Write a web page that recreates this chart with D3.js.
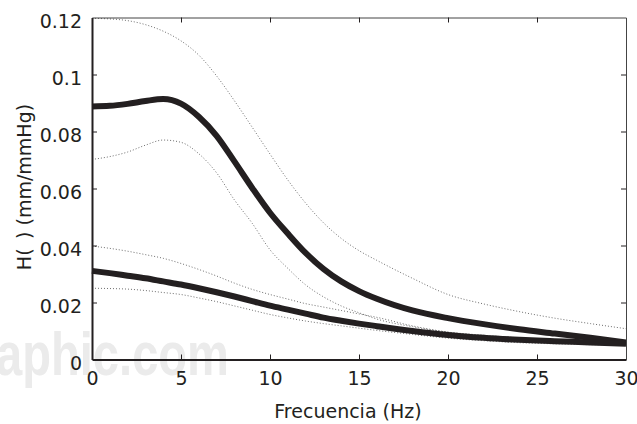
<!DOCTYPE html>
<html>
<head>
<meta charset="utf-8">
<script src="https://cdn.jsdelivr.net/npm/d3@7"></script>
<style>
  body { margin: 0; background: #fff; }
  text { font-family: 'DejaVu Sans', sans-serif; fill: #231f20; }
</style>
</head>
<body>
<script>
// data

var freq = [0, 1, 2, 3, 4, 5, 6, 7, 8, 9, 10, 11, 12, 13, 14, 15, 16, 18, 20, 22, 24, 26, 28, 30]

var upperMean = [0.0888, 0.0890, 0.0897, 0.0907, 0.0914, 0.0898, 0.0852, 0.0785, 0.0695, 0.0602, 0.0515, 0.0442,
  0.0374, 0.0318, 0.0274, 0.0240, 0.0213, 0.0172, 0.0145, 0.0124, 0.0106, 0.0091, 0.0076, 0.0060]
var upperHigh = [0.1197, 0.1195, 0.1189, 0.1175, 0.1152, 0.1118, 0.1068, 0.0995, 0.0908, 0.0815, 0.0721, 0.0630,
  0.0549, 0.0480, 0.0425, 0.0382, 0.0348, 0.0285, 0.0228, 0.0195, 0.0168, 0.0145, 0.0126, 0.0108]
var upperLow = [0.0702, 0.0712, 0.0728, 0.0752, 0.0770, 0.0762, 0.0722, 0.0655, 0.0560, 0.0478, 0.0385, 0.0320,
  0.0262, 0.0220, 0.0188, 0.0164, 0.0142, 0.0115, 0.0096, 0.0085, 0.0076, 0.0068, 0.0062, 0.0056]

var lowerMean = [0.0311, 0.0303, 0.0294, 0.0285, 0.0274, 0.0263, 0.0250, 0.0236, 0.0221, 0.0205, 0.0189, 0.0175,
  0.0161, 0.0147, 0.0136, 0.0126, 0.0117, 0.0100, 0.0086, 0.0076, 0.0069, 0.0064, 0.0060, 0.0055]
var lowerHigh = [0.0398, 0.0390, 0.0380, 0.0368, 0.0355, 0.0337, 0.0316, 0.0293, 0.0268, 0.0246, 0.0228, 0.0212,
  0.0196, 0.0184, 0.0172, 0.0160, 0.0148, 0.0118, 0.0096, 0.0085, 0.0076, 0.0068, 0.0062, 0.0056]
var lowerLow = [0.0250, 0.0249, 0.0247, 0.0242, 0.0235, 0.0228, 0.0216, 0.0203, 0.0188, 0.0173, 0.0158, 0.0146,
  0.0135, 0.0126, 0.0118, 0.0110, 0.0102, 0.0088, 0.0075, 0.0066, 0.0059, 0.0055, 0.0052, 0.0050]

var xTicks = [0, 5, 10, 15, 20, 25, 30]
var yTicks = [0, 0.02, 0.04, 0.06, 0.08, 0.1, 0.12]

var xTitle = 'Frecuencia (Hz)'
var yTitle = 'H(\u2002) (mm/mmHg)'

// page setup

var width = 637
var height = 424
var margin = { top: 17.5, right: 11, bottom: 65, left: 92 }

var svg = d3.select('body').append('svg')
  .attr('width', width)
  .attr('height', height)

// faint watermark behind the plot
svg.append('text')
  .attr('x', -4)
  .attr('y', 375)
  .attr('textLength', 233)
  .attr('lengthAdjust', 'spacingAndGlyphs')
  .style('font-family', "'Liberation Sans', sans-serif")
  .style('font-weight', 'bold')
  .style('font-size', '62px')
  .style('fill', '#ebebeb')
  .text('aphic.com')

var x = d3.scaleLinear()
  .domain([0, 30])
  .range([margin.left, width - margin.right])

var y = d3.scaleLinear()
  .domain([0, 0.12])
  .range([height - margin.bottom + 0.5, margin.top])

// curves

var line = function(values) {
  return d3.line()
    .x(function(d, i) { return x(freq[i]) })
    .y(function(d) { return y(d) })
    .curve(d3.curveMonotoneX)(values)
}

var plot = svg.append('g')

;[upperHigh, upperLow, lowerHigh, lowerLow].forEach(function(s) {
  plot.append('path')
    .attr('d', line(s))
    .attr('fill', 'none')
    .attr('stroke', '#6d6d6d')
    .attr('stroke-width', 1)
    .attr('stroke-dasharray', '1,2')
})

;[upperMean, lowerMean].forEach(function(s) {
  plot.append('path')
    .attr('d', line(s))
    .attr('fill', 'none')
    .attr('stroke', '#231f20')
    .attr('stroke-width', 6)
})

// axes, ticks point inward on all four sides

var yFormat = function(d) { return d === 0 ? '0' : String(+d.toFixed(2)) }

var gBottom = svg.append('g')
  .attr('transform', `translate(0, ${y(0)})`)
  .call(d3.axisBottom(x).tickValues(xTicks).tickSizeInner(-5).tickSizeOuter(0).tickPadding(10))
var gTop = svg.append('g')
  .attr('transform', `translate(0, ${margin.top})`)
  .call(d3.axisTop(x).tickValues(xTicks).tickSizeInner(-5).tickSizeOuter(0).tickFormat(''))
var gLeft = svg.append('g')
  .attr('transform', `translate(${margin.left}, 0)`)
  .call(d3.axisLeft(y).tickValues(yTicks).tickSizeInner(-5).tickSizeOuter(0).tickPadding(10).tickFormat(yFormat))
var gRight = svg.append('g')
  .attr('transform', `translate(${width - margin.right}, 0)`)
  .call(d3.axisRight(y).tickValues(yTicks).tickSizeInner(-5).tickSizeOuter(0).tickFormat(''))

svg.selectAll('.tick text')
  .style('font-size', '19px')
  .style('font-family', "'DejaVu Sans', sans-serif")
  .attr('fill', '#231f20')

gLeft.selectAll('.tick text').attr('dy', '0.5em')
gBottom.selectAll('.tick text').attr('dy', '0.8em')

gBottom.select('.domain').attr('stroke', '#231f20').attr('stroke-width', 2)
gLeft.select('.domain').attr('stroke', '#231f20').attr('stroke-width', 2)
gTop.select('.domain').attr('stroke', '#444')
gRight.select('.domain').attr('stroke', '#444')
svg.selectAll('.tick line').attr('stroke', '#231f20')

// drop ticks at the ends, they sit on the frame
;[gBottom, gTop].forEach(function(a) {
  a.selectAll('.tick line').filter(function(d) { return d === 0 || d === 30 }).remove()
})
;[gLeft, gRight].forEach(function(a) {
  a.selectAll('.tick line').filter(function(d) { return d === 0 || d === 0.12 }).remove()
})

// titles

svg.append('text')
  .attr('x', 348)
  .attr('y', 418)
  .attr('text-anchor', 'middle')
  .style('font-size', '19px')
  .text(xTitle)

svg.append('text')
  .attr('transform', 'translate(31, 187) rotate(-90)')
  .attr('text-anchor', 'middle')
  .style('font-size', '19px')
  .text(yTitle)
</script>
</body>
</html>
